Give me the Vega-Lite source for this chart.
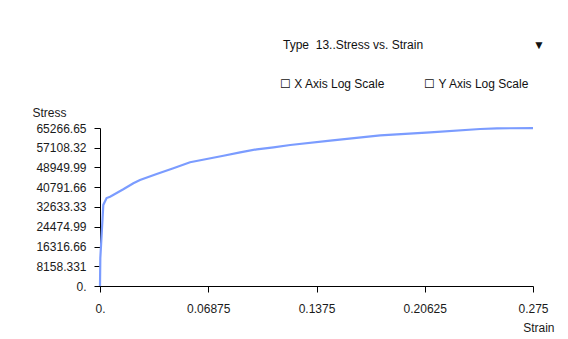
{
  "$schema": "https://vega.github.io/schema/vega-lite/v6.json",
  "autosize": {"type": "none"},
  "width": 433,
  "height": 158,
  "padding": {"left": 100, "top": 128, "right": 35, "bottom": 53},
  "background": "white",
  "config": {
    "view": {"stroke": null},
    "font": "Liberation Sans"
  },
  "title": {
    "text": "Type\u00a0\u00a013..Stress vs. Strain\u00a0\u00a0\u00a0\u00a0\u00a0\u00a0\u00a0\u00a0\u00a0\u00a0\u00a0\u00a0\u00a0\u00a0\u00a0\u00a0\u00a0\u00a0\u00a0\u00a0\u00a0\u00a0\u00a0\u00a0\u00a0\u00a0\u00a0\u00a0\u00a0\u00a0\u00a0\u00a0\u00a0▼",
    "subtitle": "☐ X Axis Log Scale\u00a0\u00a0\u00a0\u00a0\u00a0\u00a0\u00a0\u00a0\u00a0\u00a0\u00a0\u00a0☐ Y Axis Log Scale\u00a0\u00a0\u00a0\u00a0\u00a0\u200b",
    "anchor": "end",
    "dx": -9,
    "fontSize": 12,
    "fontWeight": "normal",
    "color": "#111",
    "subtitleFontSize": 12,
    "subtitleColor": "#111",
    "subtitlePadding": 27,
    "offset": 15
  },
  "data": {
    "values": [
      {"strain": 0, "stress": 0},
      {"strain": 0.0002, "stress": 11500},
      {"strain": 0.0011, "stress": 21900},
      {"strain": 0.0021, "stress": 33500},
      {"strain": 0.0042, "stress": 36350},
      {"strain": 0.0064, "stress": 36890},
      {"strain": 0.0148, "stress": 39940},
      {"strain": 0.0212, "stress": 42420},
      {"strain": 0.0254, "stress": 43790},
      {"strain": 0.036, "stress": 46270},
      {"strain": 0.0466, "stress": 48620},
      {"strain": 0.0572, "stress": 51100},
      {"strain": 0.0678, "stress": 52460},
      {"strain": 0.0784, "stress": 53820},
      {"strain": 0.089, "stress": 55220},
      {"strain": 0.0996, "stress": 56470},
      {"strain": 0.1102, "stress": 57290},
      {"strain": 0.1208, "stress": 58240},
      {"strain": 0.1462, "stress": 60020},
      {"strain": 0.178, "stress": 62240},
      {"strain": 0.2097, "stress": 63480},
      {"strain": 0.2415, "stress": 64850},
      {"strain": 0.2521, "stress": 65140},
      {"strain": 0.275, "stress": 65200}
    ]
  },
  "mark": {"type": "line", "color": "#7b9cff", "strokeWidth": 2.2, "clip": false},
  "encoding": {
    "x": {
      "field": "strain",
      "type": "quantitative",
      "scale": {"domain": [0, 0.275], "nice": false, "zero": false},
      "axis": {
        "title": "Strain",
        "values": [0, 0.06875, 0.1375, 0.20625, 0.275],
        "labelExpr": "datum.value == 0 ? '0.' : toString(datum.value)",
        "grid": false,
        "domainColor": "#000",
        "tickColor": "#000",
        "tickSize": 6,
        "labelPadding": 11,
        "labelFontSize": 12,
        "labelColor": "#1a1a1a",
        "labelFlush": false,
        "titleFontSize": 12,
        "titleFontWeight": "normal",
        "titleColor": "#1a1a1a",
        "titleAlign": "right",
        "titleBaseline": "alphabetic",
        "titleX": 454,
        "titleY": 45
      }
    },
    "y": {
      "field": "stress",
      "type": "quantitative",
      "scale": {"domain": [0, 65266.65], "nice": false},
      "axis": {
        "title": "Stress",
        "values": [0, 8158.331, 16316.66, 24474.99, 32633.33, 40791.66, 48949.99, 57108.32, 65266.65],
        "labelExpr": "datum.value == 0 ? '0.' : toString(datum.value)",
        "grid": false,
        "domainColor": "#000",
        "tickColor": "#000",
        "tickSize": 6,
        "labelPadding": 8,
        "labelFontSize": 12,
        "labelColor": "#1a1a1a",
        "labelFlush": false,
        "labelBaseline": "middle",
        "titleFontSize": 12,
        "titleFontWeight": "normal",
        "titleColor": "#1a1a1a",
        "titleAngle": 0,
        "titleAlign": "left",
        "titleBaseline": "alphabetic",
        "titleX": -68,
        "titleY": -12
      }
    }
  }
}
